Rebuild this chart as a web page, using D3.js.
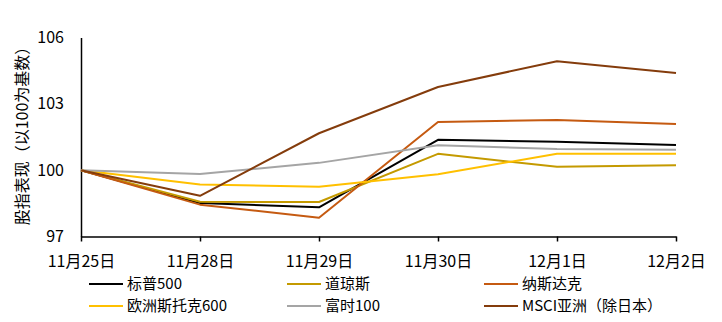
<!DOCTYPE html>
<html>
<head>
<meta charset="utf-8">
<script src="https://cdn.jsdelivr.net/npm/d3@7/dist/d3.min.js"></script>
<style>
  html, body { margin: 0; padding: 0; background: #fff; }
  svg { display: block; font-family: "Noto Sans CJK SC", "Noto Sans", sans-serif; }
</style>
</head>
<body>
<svg id="chart" width="722" height="322"></svg>
<script>
// Trading days
const dates = ["11月25日", "11月28日", "11月29日", "11月30日", "12月1日", "12月2日"];

// Index performance, rebased to 100
const sp500     = [100, 98.51, 98.32, 101.37, 101.28, 101.14];
const dowJones  = [100, 98.57, 98.56, 100.74, 100.15, 100.22];
const nasdaq    = [100, 98.44, 97.85, 102.18, 102.27, 102.09];
const stoxx600  = [100, 99.35, 99.25, 99.82, 100.74, 100.74];
const ftse100   = [100, 99.83, 100.33, 101.13, 100.96, 100.92];
const msciAsia  = [100, 98.84, 101.67, 103.76, 104.93, 104.39];

const yTicks = [97, 100, 103, 106];

const seriesNames  = ["标普500", "道琼斯", "纳斯达克", "欧洲斯托克600", "富时100", "MSCI亚洲（除日本）"];
const seriesValues = [sp500, dowJones, nasdaq, stoxx600, ftse100, msciAsia];
const seriesColors = ["#000000", "#C49A00", "#C55A11", "#FFC000", "#A5A5A5", "#843C0C"];

const svg = d3.select("#chart");

const x = d3.scalePoint().domain(dates).range([81, 676]);
const y = d3.scaleLinear().domain([97, 106]).range([236.5, 37.5]);

// X axis with outward ticks
const xAxis = svg.append("g")
  .attr("transform", "translate(0,236.5)")
  .call(d3.axisBottom(x).tickSize(5).tickSizeOuter(0).tickPadding(14));
xAxis.select(".domain").attr("stroke", "#000").attr("stroke-width", 1.5);
xAxis.selectAll(".tick line").attr("stroke", "#000").attr("stroke-width", 1.5);
xAxis.selectAll(".tick text")
  .attr("font-size", 16).attr("fill", "#000")
  .attr("font-family", "'Noto Sans CJK SC', sans-serif");

// Y axis: line only, labels at the tick values
const yAxis = svg.append("g")
  .attr("transform", "translate(81,0)")
  .call(d3.axisLeft(y).tickValues(yTicks).tickSize(0).tickSizeOuter(0).tickPadding(17));
yAxis.select(".domain").attr("stroke", "#000").attr("stroke-width", 1.5);
yAxis.selectAll(".tick text")
  .attr("font-size", 16).attr("fill", "#000")
  .attr("font-family", "'Noto Sans CJK SC', sans-serif");

// Y axis title
svg.append("text")
  .attr("transform", "translate(22,132) rotate(-90)")
  .attr("text-anchor", "middle")
  .attr("dy", "0.35em")
  .attr("font-size", 16)
  .attr("fill", "#000")
  .text("股指表现（以100为基数）");

// Lines
const line = d3.line()
  .x((d, i) => x(dates[i]))
  .y(d => y(d));

svg.append("g").selectAll("path")
  .data(seriesValues)
  .join("path")
  .attr("d", d => line(d))
  .attr("fill", "none")
  .attr("stroke", (d, i) => seriesColors[i])
  .attr("stroke-width", 2)
  .attr("stroke-linejoin", "round");

// Legend: three columns, two rows
const legendCols = [89, 287, 484];
const legendRows = [284, 306];
const legend = svg.append("g");
seriesNames.forEach((name, i) => {
  const cx = legendCols[i % 3];
  const cy = legendRows[Math.floor(i / 3)];
  legend.append("line")
    .attr("x1", cx).attr("x2", cx + 34)
    .attr("y1", cy).attr("y2", cy)
    .attr("stroke", seriesColors[i])
    .attr("stroke-width", 2);
  legend.append("text")
    .attr("x", cx + 38).attr("y", cy)
    .attr("dy", "0.35em")
    .attr("font-size", 15)
    .attr("fill", "#000")
    .text(name);
});
</script>
</body>
</html>
